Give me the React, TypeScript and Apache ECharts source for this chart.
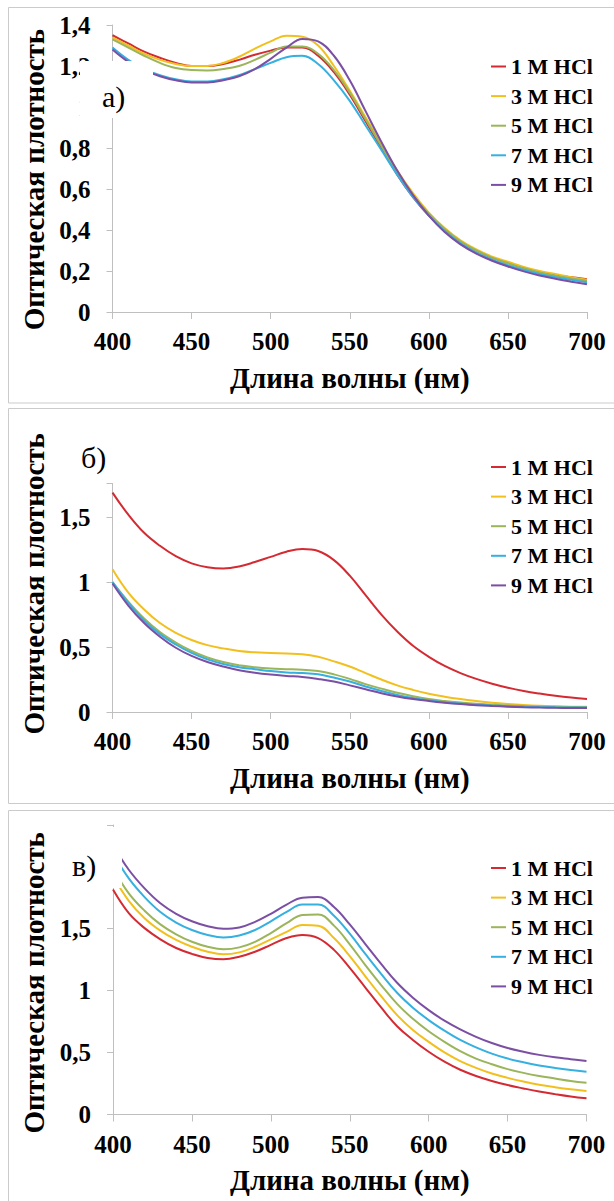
import React, { useEffect, useRef } from 'react';
import * as echarts from 'echarts';

const WAVELENGTHS = [400, 410, 420, 430, 440, 450, 460, 470, 480, 490, 500, 510, 520, 530, 540, 550, 560, 570, 580, 590, 600, 610, 620, 630, 640, 650, 660, 670, 680, 690, 700];
const SERIES_NAMES = ['1 M HCl', '3 M HCl', '5 M HCl', '7 M HCl', '9 M HCl'];
const COLORS = ['#d42a32', '#f2c01e', '#9bb55a', '#35b0e0', '#7b4fa3'];
const PANEL_LABELS = ['а)', 'б)', 'в)'];
const X_TITLE = 'Длина волны (нм)';
const Y_TITLE = 'Оптическая плотность';

// Panel а
const A_1M = [1.35, 1.31, 1.27, 1.24, 1.215, 1.2, 1.2, 1.21, 1.23, 1.255, 1.275, 1.29, 1.29, 1.25, 1.17, 1.06, 0.93, 0.8, 0.67, 0.56, 0.47, 0.4, 0.345, 0.3, 0.265, 0.24, 0.215, 0.195, 0.18, 0.17, 0.16];
const A_3M = [1.34, 1.3, 1.26, 1.23, 1.21, 1.2, 1.2, 1.215, 1.245, 1.285, 1.32, 1.348, 1.343, 1.3, 1.2, 1.08, 0.95, 0.82, 0.69, 0.58, 0.485, 0.41, 0.35, 0.305, 0.27, 0.245, 0.22, 0.2, 0.185, 0.17, 0.157];
const A_5M = [1.33, 1.29, 1.25, 1.215, 1.19, 1.18, 1.178, 1.185, 1.2, 1.23, 1.265, 1.295, 1.295, 1.26, 1.18, 1.07, 0.94, 0.81, 0.68, 0.57, 0.48, 0.405, 0.345, 0.3, 0.265, 0.238, 0.213, 0.193, 0.177, 0.164, 0.152];
const A_7M = [1.29, 1.23, 1.185, 1.155, 1.135, 1.125, 1.125, 1.135, 1.155, 1.185, 1.215, 1.243, 1.25, 1.21, 1.13, 1.03, 0.91, 0.79, 0.67, 0.56, 0.47, 0.395, 0.335, 0.29, 0.255, 0.228, 0.205, 0.185, 0.17, 0.157, 0.145];
const A_9M = [1.28, 1.22, 1.18, 1.15, 1.13, 1.12, 1.12, 1.13, 1.15, 1.185, 1.235, 1.29, 1.332, 1.32, 1.25, 1.13, 0.98, 0.83, 0.69, 0.57, 0.47, 0.39, 0.33, 0.285, 0.25, 0.222, 0.198, 0.178, 0.162, 0.148, 0.135];

// Panel б
const B_1M = [1.69, 1.52, 1.38, 1.28, 1.2, 1.145, 1.115, 1.105, 1.12, 1.155, 1.195, 1.235, 1.255, 1.24, 1.17, 1.05, 0.9, 0.75, 0.62, 0.51, 0.425, 0.355, 0.3, 0.255, 0.218, 0.187, 0.162, 0.142, 0.125, 0.111, 0.1];
const B_3M = [1.1, 0.92, 0.79, 0.685, 0.61, 0.555, 0.515, 0.49, 0.47, 0.46, 0.455, 0.45, 0.445, 0.425, 0.39, 0.35, 0.3, 0.25, 0.205, 0.17, 0.14, 0.118, 0.1, 0.085, 0.072, 0.062, 0.054, 0.048, 0.044, 0.041, 0.04];
const B_5M = [1.0, 0.85, 0.72, 0.615, 0.535, 0.47, 0.42, 0.385, 0.36, 0.345, 0.335, 0.33, 0.325, 0.315, 0.29, 0.255, 0.215, 0.18, 0.148, 0.122, 0.1, 0.085, 0.073, 0.063, 0.056, 0.05, 0.046, 0.042, 0.04, 0.038, 0.037];
const B_7M = [1.0, 0.84, 0.705, 0.6, 0.52, 0.455, 0.405, 0.37, 0.345, 0.33, 0.315, 0.305, 0.3, 0.29, 0.265, 0.235, 0.197, 0.162, 0.132, 0.108, 0.09, 0.076, 0.065, 0.056, 0.05, 0.045, 0.041, 0.038, 0.036, 0.035, 0.034];
const B_9M = [0.99, 0.82, 0.685, 0.58, 0.495, 0.432, 0.385, 0.35, 0.322, 0.302, 0.288, 0.278, 0.27, 0.255, 0.235, 0.205, 0.175, 0.145, 0.12, 0.1, 0.085, 0.072, 0.061, 0.052, 0.046, 0.041, 0.037, 0.034, 0.032, 0.031, 0.03];

// Panel в
const C_1M = [1.81, 1.62, 1.5, 1.41, 1.34, 1.293, 1.26, 1.25, 1.27, 1.31, 1.365, 1.42, 1.445, 1.42, 1.325, 1.18, 1.02, 0.86, 0.71, 0.6, 0.505, 0.425, 0.36, 0.31, 0.27, 0.237, 0.21, 0.185, 0.164, 0.145, 0.13];
const C_3M = [1.92, 1.72, 1.58, 1.48, 1.405, 1.35, 1.31, 1.29, 1.305, 1.35, 1.41, 1.47, 1.525, 1.52, 1.42, 1.275, 1.11, 0.95, 0.8, 0.68, 0.585, 0.5, 0.43, 0.375, 0.33, 0.295, 0.265, 0.24, 0.22, 0.203, 0.19];
const C_5M = [1.98, 1.78, 1.64, 1.53, 1.45, 1.39, 1.35, 1.33, 1.345, 1.39, 1.46, 1.54, 1.605, 1.61, 1.52, 1.37, 1.2, 1.04, 0.89, 0.77, 0.67, 0.585, 0.51, 0.45, 0.405, 0.365, 0.335, 0.31, 0.29, 0.27, 0.255];
const C_7M = [2.1, 1.9, 1.75, 1.63, 1.545, 1.485, 1.445, 1.425, 1.44, 1.485, 1.555, 1.63, 1.69, 1.69, 1.6, 1.455, 1.29, 1.13, 0.98, 0.86, 0.76, 0.675, 0.6, 0.54, 0.49, 0.45, 0.42, 0.395, 0.375, 0.358, 0.344];
const C_9M = [2.17, 1.97, 1.82, 1.7, 1.615, 1.555, 1.515, 1.495, 1.505, 1.55, 1.615, 1.69, 1.745, 1.75, 1.67, 1.53, 1.37, 1.21, 1.06, 0.94, 0.84, 0.755, 0.685, 0.625, 0.575, 0.535, 0.505, 0.48, 0.46, 0.445, 0.43];

const PANELS = [
  { series: [A_1M, A_3M, A_5M, A_7M, A_9M], yMax: 1.4, yInterval: 0.2 },
  { series: [B_1M, B_3M, B_5M, B_7M, B_9M], yMax: 1.76, yInterval: 0.5 },
  { series: [C_1M, C_3M, C_5M, C_7M, C_9M], yMax: 2.33, yInterval: 0.5 },
];

const SERIF = 'Liberation Serif';

export default function App() {
  const ref = useRef<HTMLDivElement>(null);

  useEffect(() => {
    if (!ref.current) return;
    const chart = echarts.init(ref.current, undefined, { renderer: 'svg' });

    const grids = [
      { left: 112.5, top: 25, width: 474.5, height: 287 },
      { left: 112.5, top: 483.5, width: 474.5, height: 228.5 },
      { left: 113, top: 825, width: 473.5, height: 289.5 },
    ];
    const legendTops = [55.5, 456, 857];
    const namePaddings = [
      [0, 22, 0, 0],
      [0, 0, 0, 28],
      [0, 26, 0, 0],
    ];

    const axisLineStyle = { color: '#bfbfbf', width: 1 };

    const fmtY = (panelIdx: number) => (v: number) => {
      const r = Math.round(v * 100) / 100;
      if (panelIdx > 0) {
        const ok = [0, 0.5, 1, 1.5].some((t) => Math.abs(t - r) < 1e-6);
        if (!ok) return '';
      }
      return String(r).replace('.', ',');
    };

    const xAxis = PANELS.map((_, i) => ({
      type: 'value',
      gridIndex: i,
      min: 400,
      max: 700,
      interval: 50,
      axisLine: { show: true, lineStyle: axisLineStyle },
      axisTick: { show: true, length: 7, lineStyle: axisLineStyle },
      splitLine: { show: false },
      axisLabel: {
        margin: 17,
        fontSize: 25,
        fontWeight: 'bold',
        fontFamily: SERIF,
        color: '#000',
      },
      name: X_TITLE,
      nameLocation: 'middle',
      nameGap: 51,
      nameTextStyle: { fontSize: 29, fontWeight: 'bold', fontFamily: SERIF, color: '#000' },
    }));

    const yAxis = PANELS.map((p, i) => ({
      type: 'value',
      gridIndex: i,
      min: 0,
      max: p.yMax,
      interval: p.yInterval,
      axisLine: { show: true, lineStyle: axisLineStyle },
      axisTick: { show: true, length: 6, lineStyle: axisLineStyle },
      splitLine: { show: false },
      axisLabel: {
        margin: 22,
        fontSize: 25,
        fontWeight: 'bold',
        fontFamily: SERIF,
        color: '#000',
        formatter: fmtY(i),
      },
      name: Y_TITLE,
      nameLocation: 'middle',
      nameGap: 59,
      nameTextStyle: {
        fontSize: 29,
        fontWeight: 'bold',
        fontFamily: SERIF,
        color: '#000',
        padding: namePaddings[i],
      },
    }));

    const series: any[] = [];
    PANELS.forEach((p, pi) => {
      p.series.forEach((vals, si) => {
        series.push({
          type: 'line',
          name: SERIES_NAMES[si],
          xAxisIndex: pi,
          yAxisIndex: pi,
          data: WAVELENGTHS.map((w, k) => [w, vals[k]]),
          smooth: 0.4,
          showSymbol: false,
          symbol: 'none',
          color: COLORS[si],
          lineStyle: { color: COLORS[si], width: 2 },
          itemStyle: { color: COLORS[si] },
          z: 2,
        });
      });
    });

    const legend = legendTops.map((top) => ({
      orient: 'vertical',
      left: 491,
      top,
      padding: 0,
      icon: 'rect',
      itemWidth: 15,
      itemHeight: 2,
      itemGap: 7.6,
      selectedMode: false,
      data: SERIES_NAMES,
      textStyle: { fontSize: 22, fontWeight: 'bold', fontFamily: SERIF, color: '#000' },
    }));

    const borderStyle = { fill: 'none', stroke: '#cbcbcb', lineWidth: 1 };
    const labelFont = '30px ' + SERIF;

    const graphic: any[] = [
      { type: 'rect', silent: true, z: 0, shape: { x: 8.5, y: 7.5, width: 620, height: 395.5 }, style: borderStyle },
      { type: 'rect', silent: true, z: 0, shape: { x: 8.5, y: 408.5, width: 620, height: 395 }, style: borderStyle },
      { type: 'rect', silent: true, z: 0, shape: { x: 8.5, y: 810.5, width: 620, height: 420 }, style: borderStyle },
      { type: 'rect', silent: true, z: 100, shape: { x: 80, y: 61, width: 73, height: 57 }, style: { fill: '#ffffff' } },
      { type: 'rect', silent: true, z: 100, shape: { x: 62, y: 827, width: 60, height: 61 }, style: { fill: '#ffffff' } },
      { type: 'text', silent: true, z: 101, x: 102, y: 96, style: { text: PANEL_LABELS[0], font: labelFont, fill: '#000', textVerticalAlign: 'middle', verticalAlign: 'middle' } },
      { type: 'text', silent: true, z: 101, x: 81, y: 457, style: { text: PANEL_LABELS[1], font: labelFont, fill: '#000', textVerticalAlign: 'middle', verticalAlign: 'middle' } },
      { type: 'text', silent: true, z: 101, x: 72, y: 865, style: { text: PANEL_LABELS[2], font: labelFont, fill: '#000', textVerticalAlign: 'middle', verticalAlign: 'middle' } },
    ];

    chart.setOption({
      animation: false,
      backgroundColor: '#ffffff',
      grid: grids,
      xAxis,
      yAxis,
      legend,
      series,
      graphic,
    } as any);

    return () => chart.dispose();
  }, []);

  return (
    <div
      ref={ref}
      style={{ position: 'absolute', left: 0, top: 0, width: 614, height: 1201 }}
    />
  );
}
